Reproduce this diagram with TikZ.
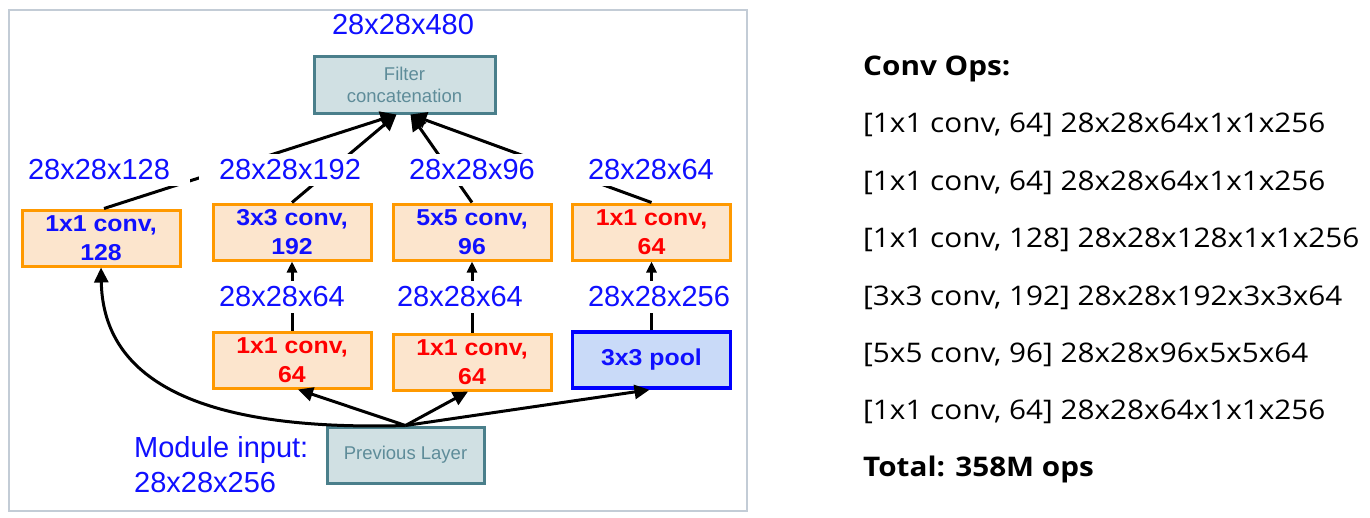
\documentclass[tikz,border=0pt]{standalone}
\usepackage{fontspec}
\setmainfont{Liberation Sans}
\newfontfamily\boxfont[FakeStretch=1.08]{Liberation Sans}
\newfontfamily\opsfont[FakeStretch=1.1]{Open Sans}
\usetikzlibrary{arrows.meta}
\definecolor{lblue}{HTML}{1010FF}
\definecolor{lred}{HTML}{FF0000}
\definecolor{tealb}{HTML}{4A7F8B}
\definecolor{tealf}{HTML}{D0E0E3}
\definecolor{tealt}{HTML}{5E8C99}
\definecolor{orab}{HTML}{FF9900}
\definecolor{oraf}{HTML}{FCE5CD}
\definecolor{poolf}{HTML}{C9DAF8}
\definecolor{poolb}{HTML}{0000FF}
\definecolor{framec}{HTML}{C3CCD6}
\tikzset{
  graybox/.style={draw=tealb, fill=tealf, line width=3pt, minimum width=#1, minimum height=56pt, inner sep=0pt, align=center, text=tealt, font=\fontsize{18.5}{22}\selectfont},
  opbox/.style={draw=orab, fill=oraf, line width=3pt, minimum width=158pt, minimum height=56pt, inner sep=0pt, align=center, font=\boxfont\bfseries\fontsize{23}{29}\selectfont},
  poolbox/.style={draw=poolb, fill=poolf, line width=3.5pt, minimum width=158pt, minimum height=56pt, inner sep=0pt, align=center, text=lblue, font=\boxfont\bfseries\fontsize{23}{29}\selectfont},
  dimlbl/.style={text=lblue, font=\fontsize{29}{34}\selectfont, fill=white, inner xsep=20pt, inner ysep=6pt},
  dimlblsmall/.style={text=lblue, font=\fontsize{29}{34}\selectfont, fill=white, inner xsep=8pt, inner ysep=6pt},
  toplbl/.style={text=lblue, font=\fontsize{29}{34}\selectfont, inner sep=0pt},
  bigarrow/.style={line width=3pt, -{Triangle[length=16pt,width=16pt]}},
  midarrow/.style={line width=3pt, -{Triangle[length=15pt,width=14pt]}},
  smallarrow/.style={line width=3pt, -{Triangle[length=11pt,width=10pt]}},
  opsline/.style={anchor=base west, inner sep=0pt, font=\opsfont\fontsize{27}{32}\selectfont},
  opsbold/.style={anchor=base west, inner sep=0pt, font=\opsfont\bfseries\fontsize{27}{32}\selectfont},
}
\begin{document}
\begin{tikzpicture}[x=1pt,y=-1pt]
\useasboundingbox (0,0) rectangle (1370,517);
\fill[white] (0,0) rectangle (1370,517);
% boxes
\node[graybox=181pt, minimum height=57pt] (filt) at (404.5,84.5) {Filter\\concatenation};
\node[opbox, text=lblue] (b1) at (101,238) {1x1 conv,\\128};
\node[opbox, text=lblue] (b2) at (292,232) {3x3 conv,\\192};
\node[opbox, text=lblue] (b3) at (472,232) {5x5 conv,\\96};
\node[opbox, text=lred] (b4) at (651.5,232) {1x1 conv,\\64};
\node[opbox, text=lred] (l1) at (292,360) {1x1 conv,\\64};
\node[opbox, text=lred] (l2) at (472,362) {1x1 conv,\\64};
\node[poolbox] (pool) at (651.5,360) {3x3 pool};
\node[graybox=157pt] (prev) at (405.5,455) {Previous Layer};
% connectors to filter
\draw[bigarrow] ([xshift=3pt]b1.north) -- ([xshift=-8pt]filt.south);
\draw[bigarrow] (b2.north) -- ([xshift=-8pt]filt.south);
\draw[bigarrow] (b3.north) -- ([xshift=6pt]filt.south);
\draw[bigarrow] (b4.north) -- ([xshift=6pt]filt.south);
% inner connectors
\draw[smallarrow] (l1.north) -- (b2.south);
\draw[smallarrow] (l2.north) -- (b3.south);
\draw[smallarrow] (pool.north) -- (b4.south);
% from previous layer
\draw[midarrow] (prev.north) .. controls (180,432) and (103,370) .. (b1.south);
\draw[midarrow] (prev.north) -- ([xshift=6pt]l1.south);
\draw[midarrow] (prev.north) -- ([xshift=-4pt]l2.south);
\draw[midarrow] (prev.north) -- ([xshift=-2pt]pool.south);
% labels
\node[toplbl] (d480) at (403,25) {28x28x480};
\node[dimlbl] (d128) at (99,170) {28x28x128};
\node[dimlbl] (d192) at (290,170) {28x28x192};
\node[dimlbl, inner xsep=30pt] (d96) at (472,170) {28x28x96};
\node[dimlbl, inner xsep=30pt] (d64a) at (651,170) {28x28x64};
\node[dimlblsmall] (d64b) at (282,297) {28x28x64};
\node[dimlblsmall] (d64c) at (460,297) {28x28x64};
\node[dimlblsmall] (d256) at (659,297) {28x28x256};
\node[toplbl, anchor=west, align=left, font=\fontsize{29}{35}\selectfont] (modin) at (134,465) {Module input:\\28x28x256};
% frame
\draw[framec, line width=1.5pt] (9,10) rectangle (747,511);
% right text
\node[opsbold] (t0) at (863,75) {Conv Ops:};
\node[opsline] (t1) at (863,132) {[1x1 conv, 64] 28x28x64x1x1x256};
\node[opsline] (t2) at (863,190) {[1x1 conv, 64] 28x28x64x1x1x256};
\node[opsline] (t3) at (863,247) {[1x1 conv, 128] 28x28x128x1x1x256};
\node[opsline] (t4) at (863,305) {[3x3 conv, 192] 28x28x192x3x3x64};
\node[opsline] (t5) at (863,362) {[5x5 conv, 96] 28x28x96x5x5x64};
\node[opsline] (t6) at (863,419) {[1x1 conv, 64] 28x28x64x1x1x256};
\node[opsbold] (t7) at (863,476) {Total: 358M ops};
\end{tikzpicture}
\end{document}
